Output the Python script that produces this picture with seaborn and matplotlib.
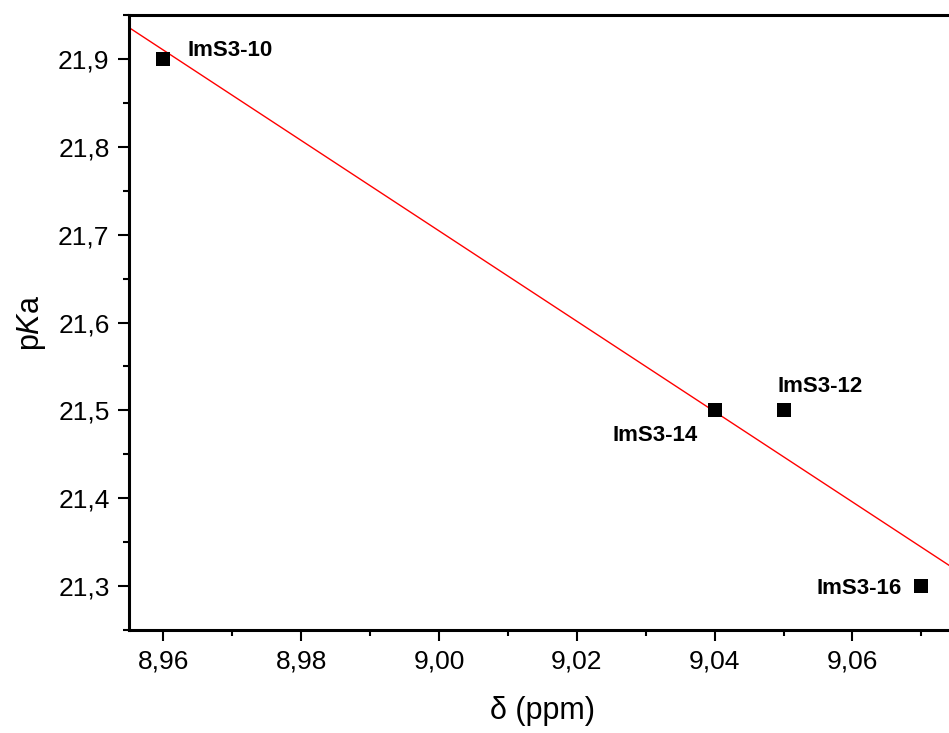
import numpy as np
import matplotlib
matplotlib.use("Agg")
import matplotlib.pyplot as plt
import seaborn as sns
import pandas as pd
from matplotlib.ticker import MultipleLocator, FuncFormatter

# data
shift = [8.96, 9.05, 9.04, 9.07]
pka = [21.9, 21.5, 21.5, 21.3]
names = ['ImS3-10', 'ImS3-12', 'ImS3-14', 'ImS3-16']
# label offsets (points), alignment
offsets = [(17, 2), (-4.7, 13), (-12, -22.3), (-14.4, -6)]
aligns = ['left', 'left', 'right', 'right']

df = pd.DataFrame({'shift': shift, 'pka': pka, 'name': names})

sns.set_theme(style="ticks")
plt.rcParams['font.family'] = ['Liberation Sans', 'DejaVu Sans']
plt.rcParams['mathtext.fontset'] = 'custom'
plt.rcParams['mathtext.rm'] = 'Liberation Sans'
plt.rcParams['mathtext.it'] = 'Liberation Sans:italic'
plt.rcParams['text.color'] = 'black'
plt.rcParams['axes.labelcolor'] = 'black'

fig = plt.figure(figsize=(9.49, 7.33), dpi=100)
fig.patch.set_facecolor('white')
ax = fig.add_axes([129 / 949, 103 / 733, 826.8 / 949, 615 / 733])

ax.set_xlim(8.955, 9.075)
ax.set_ylim(21.25, 21.95)

sns.regplot(data=df, x='shift', y='pka', scatter=False, ci=None, truncate=False,
            color='red', line_kws={'lw': 1.0}, ax=ax)
sns.scatterplot(data=df, x='shift', y='pka', marker='s', s=90, color='black',
                edgecolor='black', linewidth=0, ax=ax, zorder=3)

for x, y, n, off, ha in zip(shift, pka, names, offsets, aligns):
    ax.annotate(n, (x, y), xytext=off, textcoords='offset points', ha=ha, va='baseline',
                fontsize=16, fontweight='bold', color='black')

ax.set_xlim(8.955, 9.075)
ax.set_ylim(21.25, 21.95)

ax.xaxis.set_major_locator(MultipleLocator(0.02))
ax.xaxis.set_minor_locator(MultipleLocator(0.01))
ax.yaxis.set_major_locator(MultipleLocator(0.1))
ax.yaxis.set_minor_locator(MultipleLocator(0.05))
ax.xaxis.set_major_formatter(FuncFormatter(lambda v, p: f'{v:.2f}'.replace('.', ',')))
ax.yaxis.set_major_formatter(FuncFormatter(lambda v, p: f'{v:.1f}'.replace('.', ',')))

ax.tick_params(which='major', length=8, width=1.5, labelsize=19, color='black',
               labelcolor='black', pad=6)
ax.tick_params(which='minor', length=4.5, width=1.5, color='black')

for s in ['left', 'bottom', 'top', 'right']:
    ax.spines[s].set_linewidth(2.2)
    ax.spines[s].set_color('black')

ax.set_xlabel('δ (ppm)', fontsize=22)
ax.set_ylabel(r'p$\it{K}$a', fontsize=22)
ax.xaxis.set_label_coords(0.5, -0.108)
ax.yaxis.set_label_coords(-0.098, 0.5)

fig.savefig('out.png', dpi=100, facecolor='white')
